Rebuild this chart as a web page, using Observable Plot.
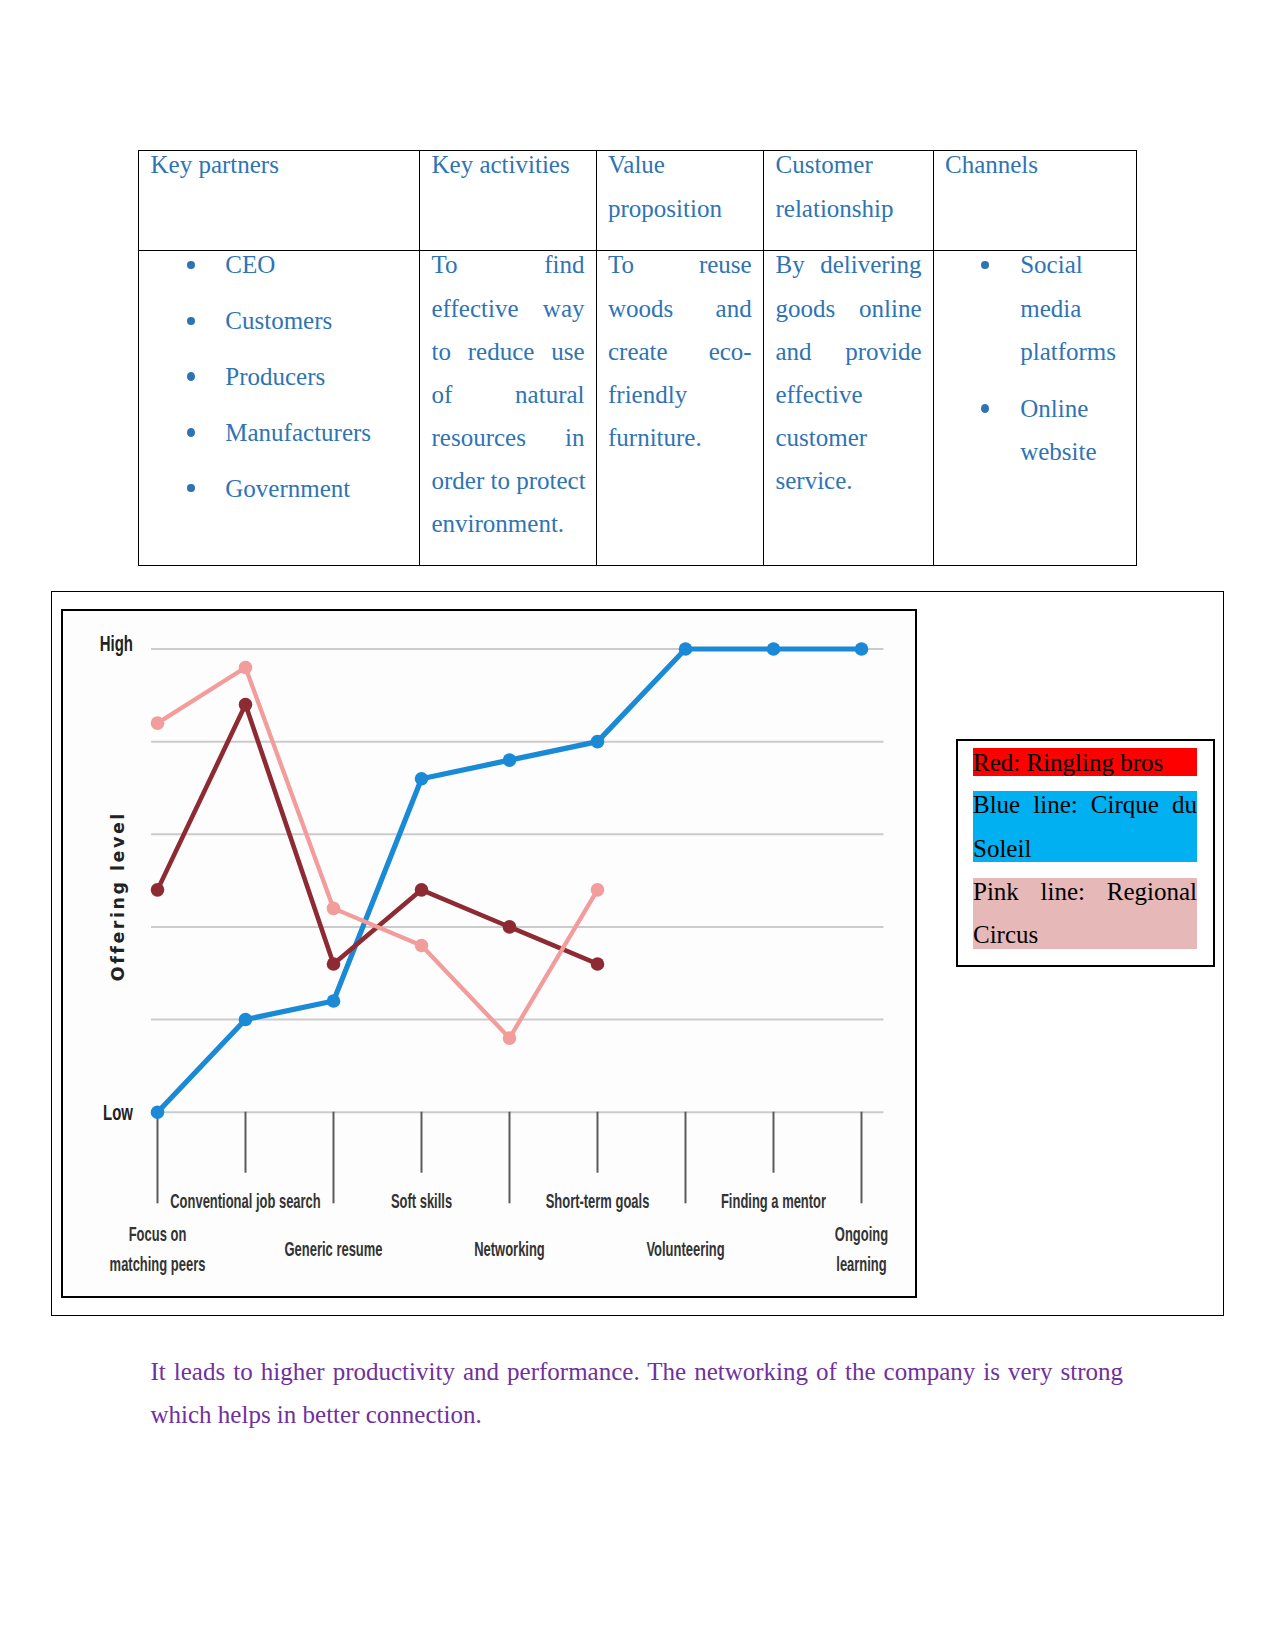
<!DOCTYPE html>
<html>
<head>
<meta charset="utf-8">
<script src="https://cdn.jsdelivr.net/npm/d3@7"></script>
<script src="https://cdn.jsdelivr.net/npm/@observablehq/plot@0.6"></script>
<style>
html,body{margin:0;padding:0;background:#fff;}
#page{position:relative;width:1275px;height:1651px;overflow:hidden;font-family:"Liberation Serif","Times New Roman",serif;font-size:25px;}
.ln{position:absolute;line-height:43px;white-space:nowrap;}
.j{text-align:justify;text-align-last:justify;}
.rule{position:absolute;background:#000;}
.box{position:absolute;box-sizing:border-box;border-style:solid;border-color:#000;}
.bul{position:absolute;width:8px;height:8.5px;border-radius:50%;}
</style>
</head>
<body>
<div id="page"></div>
<script>
// ---------------- chart data ----------------
const categories = ["Focus on\nmatching peers", "Conventional job search", "Generic resume", "Soft skills", "Networking", "Short-term goals", "Volunteering", "Finding a mentor", "Ongoing\nlearning"];
const blueValues = [0, 1, 1.2, 3.6, 3.8, 4, 5, 5, 5];      // Cirque du Soleil
const redValues = [2.4, 4.4, 1.6, 2.4, 2.0, 1.6];          // Ringling bros
const pinkValues = [4.2, 4.8, 2.2, 1.8, 0.8, 2.4];         // Regional Circus
const gridValues = [0, 1, 2, 3, 4, 5];
const yTickValues = [0, 5];
const yTickLabels = ["Low", "High"];
const yTitle = "Offering level";

// ---------------- page text ----------------
const tableHeaders = [["Key partners"], ["Key activities"], ["Value", "proposition"], ["Customer", "relationship"], ["Channels"]];
const partnersList = ["CEO", "Customers", "Producers", "Manufacturers", "Government"];
const activitiesLines = ["To find", "effective way", "to reduce use", "of natural", "resources in", "order to protect", "environment."];
const valueLines = ["To reuse", "woods and", "create eco-", "friendly", "furniture."];
const relationLines = ["By delivering", "goods online", "and provide", "effective", "customer", "service."];
const channelsItems = [["Social", "media", "platforms"], ["Online", "website"]];
const legendEntries = [
  {lines: ["Red: Ringling bros"], bg: "#ff0000"},
  {lines: ["Blue line: Cirque du", "Soleil"], bg: "#00b0f0"},
  {lines: ["Pink line: Regional", "Circus"], bg: "#e6b8b7"}
];
const paragraphLines = ["It leads to higher productivity and performance. The networking of the company is very strong", "which helps in better connection."];

const page = document.getElementById("page");
function el(cls, style, text) {
  const d = document.createElement("div");
  d.className = cls;
  Object.assign(d.style, style);
  if (text != null) d.textContent = text;
  page.appendChild(d);
  return d;
}
const px = v => v + "px";
function line(text, x, top, w, justify, color) {
  el("ln" + (justify ? " j" : ""), {left: px(x), top: px(top), width: w ? px(w) : "auto", color: color}, text);
}

// ---------------- table ----------------
const TBLUE = "#2e74b5";
const tl = 138, tr = 1136, tt = 150, th = 249.5, tb = 565;
const dividers = [419, 596, 763, 933];
el("rule", {left: px(tl), top: px(tt), width: px(tr - tl + 1), height: "1px"});
el("rule", {left: px(tl), top: px(th), width: px(tr - tl + 1), height: "1px"});
el("rule", {left: px(tl), top: px(tb), width: px(tr - tl + 1), height: "1px"});
[tl, ...dividers, tr].forEach(x => el("rule", {left: px(x), top: px(tt), width: "1px", height: px(tb - tt + 1)}));

const colX = [150.5, 431.5, 608, 775.5, 945];
const colW = [250, 153, 143.7, 146, 180];
const LH = 43.1;
function bullet(cx, lineTop) {
  el("bul", {left: px(cx - 4), top: px(lineTop + 21.6 - 4.25), background: TBLUE});
}
tableHeaders.forEach((ls, c) => ls.forEach((t, k) => line(t, colX[c], 143.4 + k * LH, null, false, TBLUE)));
const bodyTop = 243.4;
partnersList.forEach((t, k) => {
  bullet(191.2, bodyTop + k * 55.8);
  line(t, 225.3, bodyTop + k * 55.8, null, false, TBLUE);
});
activitiesLines.forEach((t, k) => line(t, colX[1], bodyTop + k * LH, colW[1], k < 6, TBLUE));
valueLines.forEach((t, k) => line(t, colX[2], bodyTop + k * LH, colW[2], k < 3, TBLUE));
relationLines.forEach((t, k) => line(t, colX[3], bodyTop + k * LH, colW[3], k < 3, TBLUE));
const chTops = [[243.4, 286.5, 329.6], [386.7, 429.8]];
channelsItems.forEach((item, i) => {
  bullet(985.4, chTops[i][0]);
  item.forEach((t, k) => line(t, 1020.2, chTops[i][k], null, false, TBLUE));
});

// ---------------- boxes ----------------
el("box", {left: "51px", top: "591px", width: px(1224 - 51), height: px(1316 - 591), borderWidth: "1px"});
el("box", {left: "61px", top: "609px", width: "856px", height: "689px", borderWidth: "2.5px", background: "#fdfdfd"});
el("box", {left: "956px", top: "738.5px", width: px(1215 - 956), height: px(967 - 738.5), borderWidth: "2px"});

// legend
const legTops = [[740.8], [783.4, 826.5], [870.1, 913.2]];
legendEntries.forEach((e, i) => {
  const tops = legTops[i];
  el("hl", {position: "absolute", left: "973px", width: "224px", top: px(tops[0] + 7.65), height: px((tops.length - 1) * LH + 27.7), background: e.bg});
  e.lines.forEach((t, k) => line(t, 973, tops[k], 224, k < e.lines.length - 1, "#000"));
});

// paragraph
paragraphLines.forEach((t, k) => line(t, 150.5, 1350.1 + k * LH, 972.5, k === 0, "#7030a0"));

// ---------------- chart ----------------
const rows = [];
blueValues.forEach((v, i) => rows.push({cat: categories[i], v, s: "blue"}));
redValues.forEach((v, i) => rows.push({cat: categories[i], v, s: "red"}));
pinkValues.forEach((v, i) => rows.push({cat: categories[i], v, s: "pink"}));
const colors = {blue: "#1a8ad6", red: "#8e2a33", pink: "#f29c9c"};
const widths = {blue: 5.2, red: 4.6, pink: 4.3};
const order = ["blue", "red", "pink"];

const labelFont = "'Liberation Sans', Arial, sans-serif";
const seriesMarks = order.flatMap(s => {
  const d = rows.filter(r => r.s === s);
  return [
    Plot.line(d, {x: "cat", y: "v", stroke: colors[s], strokeWidth: widths[s], strokeLinejoin: "round", strokeLinecap: "round"}),
    Plot.dot(d, {x: "cat", y: "v", r: 6.8, fill: colors[s], stroke: "none"})
  ];
});

const chart = Plot.plot({
  width: 851,
  height: 683,
  marginLeft: 88,
  marginRight: 30.5,
  marginTop: 36.5,
  marginBottom: 183.3,
  style: {background: "transparent", overflow: "visible"},
  x: {type: "point", domain: categories, padding: 0.1537, align: 0.203, label: null},
  y: {domain: [0, 5], label: null},
  marks: [
    Plot.gridY(gridValues, {stroke: "#cbcbcb", strokeOpacity: 1, strokeWidth: 2}),
    Plot.axisX(categories.filter((_, i) => i % 2 === 1), {
      tickSize: 61, tickPadding: 29, lineAnchor: "middle", stroke: "#5a5a5a", strokeWidth: 2,
      fill: "#333", fontSize: 19.5, fontWeight: "bold", fontFamily: labelFont, label: null
    }),
    Plot.axisX(categories.filter((_, i) => i % 2 === 0), {
      tickSize: 91.6, tickPadding: 43, lineAnchor: "middle", lineHeight: 1.54, stroke: "#5a5a5a", strokeWidth: 2,
      fill: "#333", fontSize: 19.5, fontWeight: "bold", fontFamily: labelFont, label: null
    }),
    Plot.axisY([yTickValues[1]], {tickSize: 0, tickPadding: 18.5, dy: -5.5, tickFormat: d => yTickLabels[yTickValues.indexOf(d)],
      fill: "#222", fontSize: 22, fontWeight: "bold", fontFamily: labelFont, label: null}),
    Plot.axisY([yTickValues[0]], {tickSize: 0, tickPadding: 18.5, dy: 1, tickFormat: d => yTickLabels[yTickValues.indexOf(d)],
      fill: "#222", fontSize: 22, fontWeight: "bold", fontFamily: labelFont, label: null}),
    Plot.text([yTitle], {text: d => d, frameAnchor: "left", rotate: -90, fontSize: 17.5,
      fontWeight: "bold", fontFamily: "'DejaVu Sans', Verdana, sans-serif", fill: "#222"}),
    ...seriesMarks
  ]
});

// emulate the condensed lettering of the original chart
chart.querySelectorAll('g[aria-label="x-axis tick label"] text').forEach(t => {
  t.setAttribute("transform", (t.getAttribute("transform") || "") + " scale(0.665,1)");
});
chart.querySelectorAll('g[aria-label="y-axis tick label"] text').forEach(t => {
  t.setAttribute("transform", (t.getAttribute("transform") || "") + " scale(0.68,1)");
});

chart.style.position = "absolute";
chart.style.left = "63px";
chart.style.top = "612px";
page.appendChild(chart);

// place the rotated axis title: letter-spaced, centred at its spot beside the frame
const titleText = chart.querySelector('g[aria-label="text"] text');
const titleG = titleText.parentNode;
let ls = 1;
titleText.style.letterSpacing = ls + "px";
for (let k = 0; k < 3; k++) {
  const b = titleText.getBoundingClientRect();
  ls += (170 - b.height) / 13;
  titleText.style.letterSpacing = ls + "px";
}
{
  const pr = page.getBoundingClientRect();
  const b = titleText.getBoundingClientRect();
  const cx = b.left + b.width / 2 - pr.left, cy = b.top + b.height / 2 - pr.top;
  const ddx = 117.7 - cx, ddy = 896.2 - cy;
  titleG.setAttribute("transform", `translate(${ddx},${ddy}) ` + (titleG.getAttribute("transform") || ""));
}
</script>
</body>
</html>
